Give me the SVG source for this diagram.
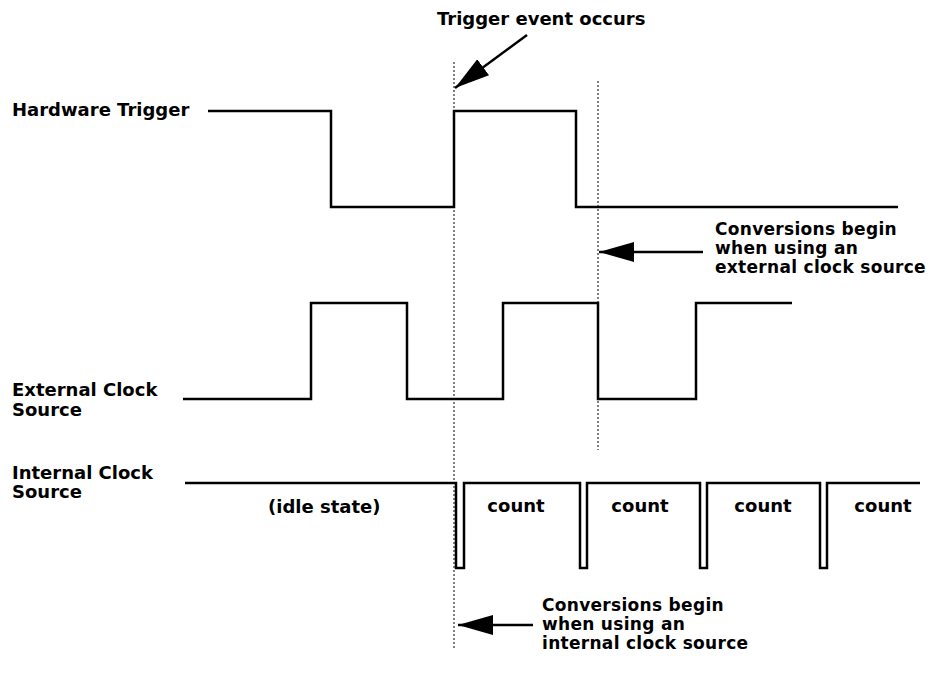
<svg xmlns="http://www.w3.org/2000/svg" width="938" height="679" viewBox="0 0 938 679">
<style>
  text { font-family: "DejaVu Sans", "Liberation Sans", sans-serif; font-weight: bold; font-size: 18px; fill: #000; }
  .note { font-size: 17px; letter-spacing: 0.3px; }
  .wave { fill: none; stroke: #000; stroke-width: 2.5; stroke-linejoin: miter; }
  .dash { fill: none; stroke: #000; stroke-width: 1; stroke-dasharray: 2 2; }
  .arrow { fill: none; stroke: #000; stroke-width: 2.5; }
  .mid { text-anchor: middle; }
</style>
<defs>
  <marker id="head" markerUnits="userSpaceOnUse" markerWidth="36" markerHeight="22" viewBox="0 -11 36 22" refX="35" refY="0" orient="auto">
    <path d="M0,-10 L35,0 L0,10 z" fill="#000"/>
  </marker>
</defs>
<rect width="938" height="679" fill="#fff"/>

<g id="hardware-trigger">
  <text x="12" y="116">Hardware Trigger</text>
  <path class="wave" d="M208,111 H331 V207 H454 V111 H576 V207 H898"/>
</g>

<g id="external-clock">
  <text x="12" y="396">External Clock</text>
  <text x="12" y="416">Source</text>
  <path class="wave" d="M183,399 H311 V303 H407 V399 H503 V303 H598 V399 H696 V303 H792"/>
</g>

<g id="internal-clock">
  <text x="12" y="479">Internal Clock</text>
  <text x="12" y="498">Source</text>
  <path class="wave" d="M185,483 H456 V568 H464 V483 H580 V568 H587 V483 H700 V568 H707 V483 H820 V568 H827 V483 H920"/>
  <text x="268" y="513">(idle state)</text>
  <text class="mid" x="516" y="512">count</text>
  <text class="mid" x="640" y="512">count</text>
  <text class="mid" x="763" y="512">count</text>
  <text class="mid" x="883" y="512">count</text>
</g>

<g id="trigger-label">
  <text x="437" y="25" font-size="17.5">Trigger event occurs</text>
</g>

<g id="external-label">
  <text class="note" x="715" y="235">Conversions begin</text>
  <text class="note" x="715" y="254">when using an</text>
  <text class="note" x="715" y="273">external clock source</text>
</g>

<g id="internal-label">
  <text class="note" x="542" y="611">Conversions begin</text>
  <text class="note" x="542" y="630">when using an</text>
  <text class="note" x="542" y="649">internal clock source</text>
</g>

<g id="connectors">
  <line class="dash" x1="454" y1="62" x2="454" y2="650"/>
  <line class="dash" x1="598" y1="81" x2="598" y2="450"/>
  <line class="arrow" x1="527" y1="35" x2="455" y2="88" marker-end="url(#head)"/>
  <line class="arrow" x1="703" y1="252" x2="599" y2="252" marker-end="url(#head)"/>
  <line class="arrow" x1="533" y1="625" x2="458" y2="625" marker-end="url(#head)"/>
</g>
</svg>
